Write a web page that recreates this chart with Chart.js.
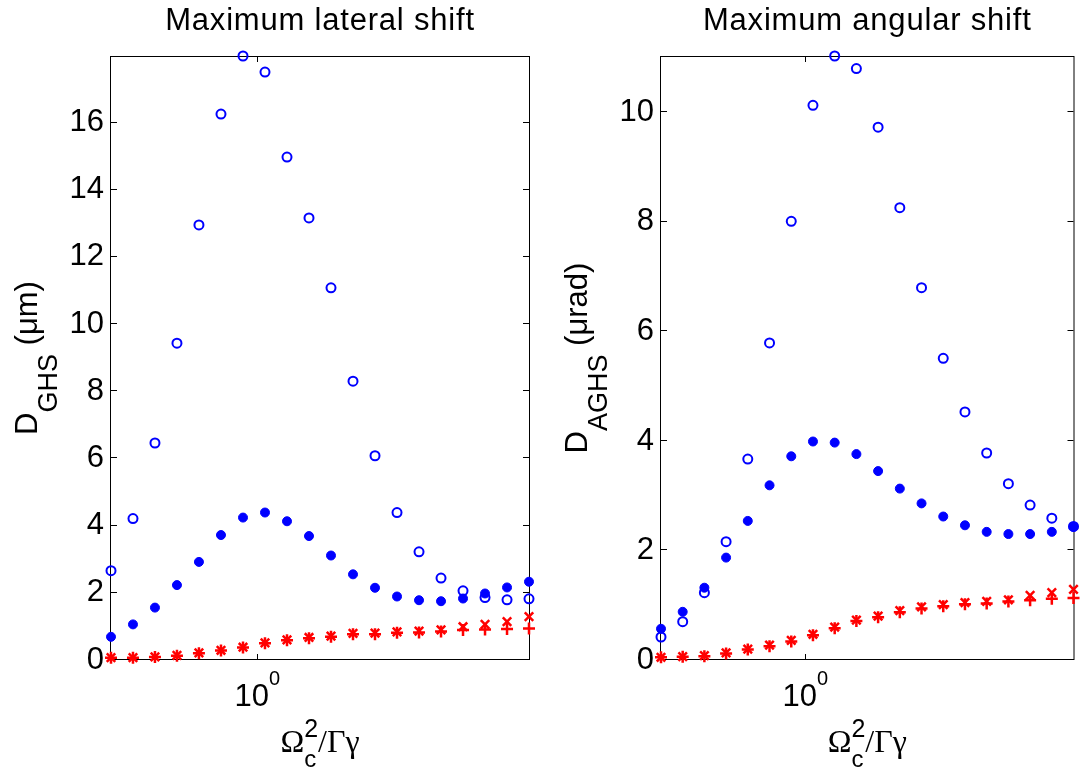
<!DOCTYPE html>
<html>
<head>
<meta charset="utf-8">
<script src="https://cdn.jsdelivr.net/npm/chart.js@4.4.0/dist/chart.umd.min.js"></script>
<style>
  html, body { margin: 0; padding: 0; background: #fff; }
  #wrap { position: relative; width: 1082px; height: 769px; }
  canvas { position: absolute; top: 0; }
</style>
</head>
<body>
<div id="wrap">
  <canvas id="lateral" width="541" height="769" style="left:0"></canvas>
  <canvas id="angular" width="541" height="769" style="left:541px"></canvas>
</div>
<script>
// coupling strength Omega_c^2 / (Gamma*gamma), log spaced
const xValues = [0.4467, 0.5042, 0.5691, 0.6424, 0.7251, 0.8187, 0.9243, 1.0433, 1.1778, 1.3295,
                 1.5008, 1.6942, 1.9125, 2.1590, 2.4372, 2.7512, 3.1057, 3.5059, 3.9577, 4.4668];
const xTicks = [1];

// maximum lateral shift (um)
const lateralOpen   = [2.66, 4.21, 6.46, 9.43, 12.95, 16.25, 17.98, 17.5, 14.97, 13.16,
                       11.08, 8.3, 6.08, 4.39, 3.22, 2.44, 2.06, 1.86, 1.79, 1.82];
const lateralFilled = [0.69, 1.06, 1.56, 2.23, 2.92, 3.72, 4.24, 4.39, 4.13, 3.69,
                       3.11, 2.55, 2.15, 1.89, 1.78, 1.75, 1.83, 1.98, 2.16, 2.33];
const lateralPlus   = [0.07, 0.07, 0.09, 0.13, 0.2, 0.28, 0.37, 0.5, 0.59, 0.65,
                       0.69, 0.77, 0.77, 0.81, 0.82, 0.85, 0.89, 0.91, 0.92, 0.94];
const lateralCross  = [0.07, 0.07, 0.09, 0.14, 0.21, 0.29, 0.38, 0.51, 0.6, 0.67,
                       0.71, 0.79, 0.8, 0.84, 0.86, 0.9, 0.99, 1.06, 1.14, 1.29];
const lateralTicks = [0, 2, 4, 6, 8, 10, 12, 14, 16];
const lateralMax = 17.98;

// maximum angular shift (urad)
const angularOpen   = [0.42, 0.70, 1.23, 2.16, 3.67, 5.79, 8.01, 10.13, 11.03, 10.8,
                       9.73, 8.26, 6.8, 5.51, 4.53, 3.78, 3.22, 2.83, 2.59, 2.44];
const angularFilled = [0.57, 0.88, 1.32, 1.87, 2.54, 3.19, 3.72, 3.99, 3.97, 3.76,
                       3.45, 3.13, 2.86, 2.62, 2.46, 2.34, 2.30, 2.30, 2.34, 2.43];
const angularPlus   = [0.05, 0.06, 0.07, 0.12, 0.19, 0.25, 0.34, 0.45, 0.58, 0.71,
                       0.78, 0.87, 0.94, 0.98, 1.02, 1.03, 1.07, 1.09, 1.12, 1.13];
const angularCross  = [0.05, 0.06, 0.08, 0.13, 0.2, 0.27, 0.36, 0.47, 0.6, 0.73,
                       0.8, 0.9, 0.97, 1.01, 1.05, 1.07, 1.10, 1.18, 1.23, 1.29];
const angularTicks = [0, 2, 4, 6, 8, 10];
const angularMax = 11.03;

const SANS = '"Liberation Sans", Arial, sans-serif';
const SERIF = '"Liberation Serif", "Times New Roman", serif';
const BLUE = '#0000ff';
const RED = '#ff0000';

function runsWidth(ctx, runs) {
    let w = 0;
    runs.forEach(r => {
        ctx.font = r.font;
        if (!r.noAdvance) w += ctx.measureText(r.text).width;
    });
    return w;
}

function drawRuns(ctx, runs, x, y) {
    runs.forEach(r => {
        ctx.font = r.font;
        ctx.fillText(r.text, x, y + (r.dy || 0));
        if (!r.noAdvance) x += ctx.measureText(r.text).width;
    });
}

// box, inward ticks and all the text with sub/superscripts
const axesDecor = {
    id: 'axesDecor',
    beforeDatasetsDraw(chart) {
        const { ctx, chartArea: a, scales: { x, y } } = chart;
        const tl = 6;
        ctx.save();
        ctx.strokeStyle = '#000';
        ctx.lineWidth = 1;
        ctx.strokeRect(a.left - 0.5, a.top + 0.5, a.right - a.left + 1, a.bottom - a.top - 1);
        ctx.beginPath();
        y.ticks.forEach(t => {
            const py = Math.round(y.getPixelForValue(t.value)) - 0.5;
            ctx.moveTo(a.left, py); ctx.lineTo(a.left + tl, py);
            ctx.moveTo(a.right, py); ctx.lineTo(a.right - tl, py);
        });
        x.ticks.forEach(t => {
            const px = Math.round(x.getPixelForValue(t.value)) + 0.5;
            ctx.moveTo(px, a.bottom); ctx.lineTo(px, a.bottom - tl);
            ctx.moveTo(px, a.top); ctx.lineTo(px, a.top + tl);
        });
        ctx.stroke();
        ctx.restore();
    },
    afterDraw(chart, args, opts) {
        const { ctx, chartArea: a, scales: { x } } = chart;
        const cx = (a.left + a.right) / 2;
        const cy = (a.top + a.bottom) / 2;
        ctx.save();
        ctx.fillStyle = '#000';
        ctx.textBaseline = 'alphabetic';
        ctx.textAlign = 'left';

        // title
        ctx.font = `31px ${SANS}`;
        ctx.letterSpacing = '0.8px';
        const tw = ctx.measureText(opts.title).width;
        ctx.fillText(opts.title, cx - tw / 2, a.top - 26);
        ctx.letterSpacing = '0px';

        // x tick labels as powers of ten
        x.ticks.forEach(t => {
            const px = x.getPixelForValue(t.value);
            const runs = [
                { text: '10', font: `31px ${SANS}` },
                { text: String(Math.round(Math.log10(t.value))), font: `20px ${SANS}`, dy: -21 }
            ];
            drawRuns(ctx, runs, px - runsWidth(ctx, runs) / 2, a.bottom + 46);
        });

        // x axis title
        const xRuns = [
            { text: 'Ω', font: `32px ${SERIF}` },
            { text: 'c', font: `24px ${SANS}`, dy: 15, noAdvance: true },
            { text: '2', font: `25px ${SANS}`, dy: -15 },
            { text: '/Γγ', font: `32px ${SERIF}` }
        ];
        drawRuns(ctx, xRuns, cx - runsWidth(ctx, xRuns) / 2, a.bottom + 92);

        // y axis title, rotated
        const yRuns = [
            { text: 'D', font: `31px ${SANS}` },
            { text: opts.ySub, font: `27px ${SANS}`, dy: 20 },
            { text: opts.yUnit, font: `31px ${SANS}` }
        ];
        ctx.translate(a.left - 74, cy);
        ctx.rotate(-Math.PI / 2);
        drawRuns(ctx, yRuns, -runsWidth(ctx, yRuns) / 2, 0);
        ctx.restore();
    }
};

function pts(values) {
    return values.map((v, i) => ({ x: xValues[i], y: v }));
}

function makePanel(id, cfg) {
    const ctx = document.getElementById(id);
    if (!ctx) return;

    new Chart(ctx, {
        type: 'scatter',
        data: {
            datasets: [{
                data: pts(cfg.open),
                pointStyle: 'circle',
                pointRadius: 4.5,
                pointBorderWidth: 2,
                pointBorderColor: BLUE,
                pointBackgroundColor: 'rgba(0,0,0,0)',
                clip: false
            }, {
                data: pts(cfg.filled),
                pointStyle: 'circle',
                pointRadius: 4.5,
                pointBorderWidth: 1,
                pointBorderColor: BLUE,
                pointBackgroundColor: BLUE,
                clip: false
            }, {
                data: pts(cfg.plus),
                pointStyle: 'cross',
                pointRadius: 6,
                pointBorderWidth: 2.5,
                pointBorderColor: RED,
                clip: false
            }, {
                data: pts(cfg.cross),
                pointStyle: 'crossRot',
                pointRadius: 6,
                pointBorderWidth: 2.5,
                pointBorderColor: RED,
                clip: false
            }]
        },
        options: {
            responsive: false,
            animation: false,
            events: [],
            layout: { padding: { left: 0, right: cfg.padRight, top: 56, bottom: 0 } },
            plugins: {
                legend: { display: false },
                tooltip: { enabled: false },
                axesDecor: { title: cfg.title, ySub: cfg.ySub, yUnit: cfg.yUnit }
            },
            scales: {
                x: {
                    type: 'logarithmic',
                    min: xValues[0],
                    max: xValues[xValues.length - 1],
                    afterBuildTicks: s => { s.ticks = xTicks.map(v => ({ value: v })); },
                    afterFit: s => { s.height = 109; },
                    ticks: { display: false },
                    grid: { display: false, drawTicks: false },
                    border: { display: false }
                },
                y: {
                    min: 0,
                    max: cfg.yMax,
                    afterBuildTicks: s => { s.ticks = cfg.yTicks.map(v => ({ value: v })); },
                    afterFit: s => { s.width = cfg.yWidth; },
                    ticks: {
                        color: '#000',
                        padding: 7,
                        font: { family: SANS, size: 31 }
                    },
                    grid: { display: false, drawTicks: false },
                    border: { display: false }
                }
            }
        },
        plugins: [axesDecor]
    });
}

makePanel('lateral', {
    title: 'Maximum lateral shift',
    ySub: 'GHS', yUnit: ' (μm)',
    open: lateralOpen, filled: lateralFilled, plus: lateralPlus, cross: lateralCross,
    yTicks: lateralTicks, yMax: lateralMax,
    yWidth: 111, padRight: 12
});

makePanel('angular', {
    title: 'Maximum angular shift',
    ySub: 'AGHS', yUnit: ' (μrad)',
    open: angularOpen, filled: angularFilled, plus: angularPlus, cross: angularCross,
    yTicks: angularTicks, yMax: angularMax,
    yWidth: 120, padRight: 3
});
</script>
</body>
</html>
